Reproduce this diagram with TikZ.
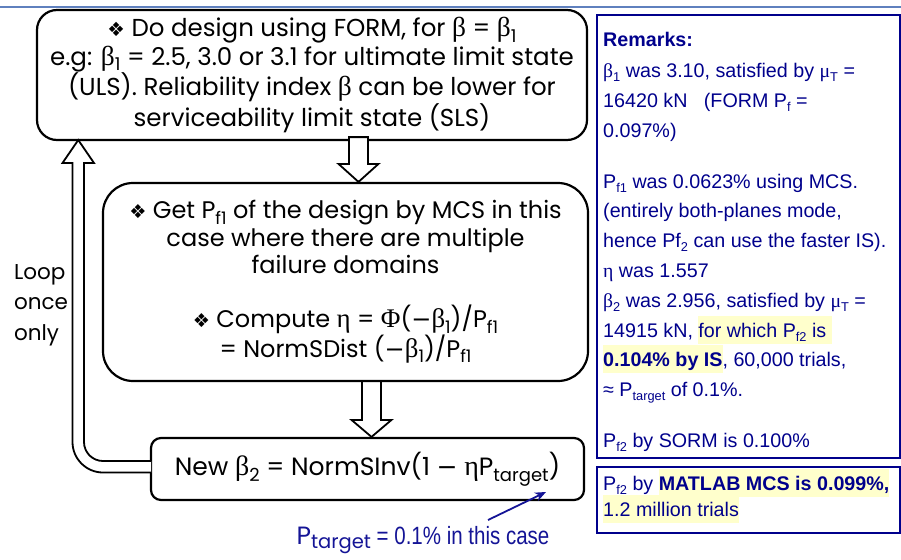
\documentclass[tikz,border=0pt]{standalone}
\usepackage{graphicx}
\usepackage{fontspec}
\setmainfont{Poppins}
\newfontfamily\arialf{Liberation Sans}
\newfontfamily\symf{Liberation Serif}
\newfontfamily\djv{DejaVu Sans}
\usetikzlibrary{calc,arrows.meta}
\definecolor{navy}{RGB}{0,0,140}
\definecolor{hly}{RGB}{255,255,204}
\definecolor{topline}{RGB}{95,128,190}
\definecolor{annblue}{RGB}{20,20,150}
\newcommand\gk[1]{{\symf #1}}
\newcommand\gb[1]{\scalebox{1.12}{\symf #1}}
\newcommand\dia{{\djv\scalebox{0.8}{❖}}}
\newcommand\mns{{\djv −}}
\newcommand\sbs[1]{\raisebox{-0.22em}{\scalebox{0.65}{#1}}}
\newcommand\sbb[1]{\raisebox{-0.22em}{\scalebox{0.72}{#1}}}
\newcommand\hl[1]{{\setlength{\fboxsep}{0pt}\colorbox{hly}{\rule[-6.5pt]{0pt}{28pt}#1}}}
\newcommand\hollowdown[4]{%
  \draw[hollow] let \p1=(#1), \p2=(#2) in
    (\x1-#3,\y1) -- (\x1-#3,\y2+#4) -- (\x1-#3-10.5pt,\y2+#4) -- (\x2,\y2)
    -- (\x1+#3+10.5pt,\y2+#4) -- (\x1+#3,\y2+#4) -- (\x1+#3,\y1) -- cycle;}
\tikzset{
  flowbox/.style={draw=black, line width=2.2pt, fill=white, align=center, inner sep=0pt},
  hollow/.style={draw=black, fill=white, line width=1.8pt, line join=miter},
  rem/.style={font=\arialf\fontsize{19.7}{22}\selectfont, text=navy, inner sep=0pt, anchor=base west},
  rembox/.style={draw=navy, line width=2pt},
}
\begin{document}
\begin{tikzpicture}[x=1pt,y=-1pt]
\useasboundingbox (0,0) rectangle (901,559);
\draw[topline, line width=1.5pt] (0,7) -- (901,7);

% flow boxes
\node[flowbox, font=\fontsize{24.5}{28.3}\selectfont, rounded corners=20pt, minimum width=550pt, minimum height=130pt] (b1) at (312,75)
 {\dia\ Do design using FORM, for \gb{β} = \gb{β}\sbb{1}\\
  e.g: \gb{β}\sbb{1} = 2.5, 3.0 or 3.1 for ultimate limit state\\
  (ULS). Reliability index \gb{β} can be lower for\\
  serviceability limit state (SLS)};
\node[flowbox, font=\fontsize{24}{27.2}\selectfont, rounded corners=30pt, minimum width=485pt, minimum height=198pt] (b2) at (345.5,282)
 {\dia\ Get P\sbb{f1} of the design by MCS in this\\
  case where there are multiple\\
  failure domains\\[27.2pt]
  \dia\ Compute \gb{η} = \gb{Φ}(\mns\gb{β}\sbb{1})/P\sbb{f1}\\
  = NormSDist (\mns\gb{β}\sbb{1})/P\sbb{f1}};
\node[flowbox, font=\fontsize{25}{28}\selectfont, rounded corners=10pt, minimum width=433pt, minimum height=62pt] (b3) at (367.5,469)
 {New \gb{β}\sbb{2} = NormSInv(1 \mns\ \gb{η}P\sbb{target})};

% connectors
\coordinate (a1s) at ($(b1.south)+(46.5,-4)$);
\coordinate (a1e) at (a1s |- b2.north);
\hollowdown{a1s}{a1e}{9.5pt}{18pt}
\coordinate (a2s) at ($(b2.south)+(26,-1)$);
\coordinate (a2e) at (a2s |- b3.north);
\hollowdown{a2s}{a2e}{9.5pt}{17pt}

\coordinate (looptip) at (78.25,140);
\draw[hollow] (151,472.5) -- (103,472.5) .. controls (86.2,472.5) and (72.5,458.8) .. (72.5,442)
  -- (72.5,163) -- (62.5,163) -- (looptip) -- (94,163) -- (84,163) -- (84,442)
  .. controls (84,452.5) and (92.5,461) .. (103,461) -- (151,461);

\node[font=\fontsize{21.5}{30.5}\selectfont, align=left, inner sep=0pt] (loop) at (41,305) {Loop\\once\\only};

% annotation
\node[text=annblue, inner sep=0pt, anchor=base] (ann) at (423,544)
 {{\fontsize{25}{27}\selectfont P\raisebox{-0.18em}{\scalebox{0.78}{target}}}{\arialf\fontsize{25}{27}\selectfont\scalebox{0.82}[1]{ = 0.1\% in this case}}};
\coordinate (annstart) at (488,520);
\coordinate (annend) at (546,492);
\draw[annblue, line width=1.8pt, -{Stealth[length=11pt,width=9pt]}] (annstart) -- (annend);

% remarks
\draw[rembox] (597,15) rectangle (900,458);
\draw[rembox] (597,467) rectangle (900,533);
\node[rem] (r1) at (603,47) {\textbf{Remarks:}};
\node[rem] (r2) at (603,77.5) {\gk{β}\sbs{1} was 3.10, satisfied by \gk{μ}\sbs{T} =};
\node[rem] (r3) at (603,107.5) {16420 kN \ \ (FORM P\sbs{f} =};
\node[rem] (r4) at (603,137) {0.097\%)};
\node[rem] (r5) at (603,188) {P\sbs{f1} was 0.0623\% using MCS.};
\node[rem] (r6) at (603,217.8) {(entirely both-planes mode,};
\node[rem] (r7) at (603,247.6) {hence Pf\sbs{2} can use the faster IS).};
\node[rem] (r8) at (603,277.4) {\gk{η} was 1.557};
\node[rem] (r9) at (603,307.2) {\gk{β}\sbs{2} was 2.956, satisfied by \gk{μ}\sbs{T} =};
\node[rem] (r10) at (603,337) {14915 kN, \hl{for which P\sbs{f2} is\ }};
\node[rem] (r11) at (603,366.8) {\hl{\textbf{0.104\% by IS}}, 60,000 trials,};
\node[rem] (r12) at (603,396.6) {≈ P\sbs{target} of 0.1\%.};
\node[rem] (r13) at (603,447) {P\sbs{f2} by SORM is 0.100\%};
\node[rem] (r14) at (603,490) {P\sbs{f2} by \hl{\textbf{MATLAB MCS is 0.099\%,}}};
\node[rem] (r15) at (603,516) {\hl{1.2 million trials}};
\end{tikzpicture}
\end{document}
